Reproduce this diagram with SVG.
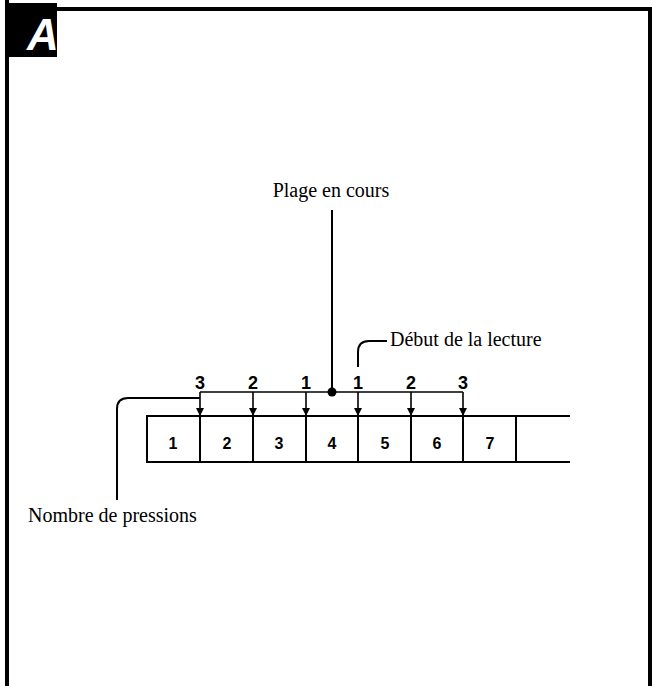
<svg xmlns="http://www.w3.org/2000/svg" width="652" height="686" viewBox="0 0 652 686">
<style>
.ln{stroke:#000;stroke-width:2;fill:none}
.ar{stroke:#000;stroke-width:1.6;fill:none}
.lbl{font-family:"Liberation Serif","Times New Roman",serif;font-size:20px;fill:#000}
.num{font-family:"Liberation Sans",Arial,sans-serif;font-size:18px;font-weight:bold;fill:#000;text-anchor:middle}
.cn{font-family:"Liberation Sans",Arial,sans-serif;font-size:16px;font-weight:bold;fill:#000;text-anchor:middle}
</style>
<defs>
<marker id="ah" viewBox="0 0 8 8" refX="8" refY="4" markerWidth="8" markerHeight="8" markerUnits="userSpaceOnUse" orient="auto">
<path d="M0,0 L8,4 L0,8 Z" fill="#000"/>
</marker>
</defs>
<rect width="652" height="686" fill="#fff"/>
<g id="frame">
<rect x="5" y="0" width="4" height="686" fill="#000"/>
<rect x="5" y="7" width="647" height="4" fill="#000"/>
<rect x="648" y="7" width="4" height="679" fill="#000"/>
<rect x="5" y="3" width="52" height="54" fill="#000"/>
<text x="27" y="50" font-family="Liberation Sans,Arial,sans-serif" font-size="44" font-weight="bold" font-style="italic" fill="#fff">A</text>
</g>
<g id="track-strip">
<path class="ln" d="M570,416 H147 V462 H570"/>
<path class="ln" d="M200,416 V462 M253,416 V462 M306,416 V462 M358,416 V462 M411,416 V462 M463,416 V462 M516,416 V462"/>
<text class="cn" x="173" y="449">1</text>
<text class="cn" x="227" y="449">2</text>
<text class="cn" x="279" y="449">3</text>
<text class="cn" x="332" y="449">4</text>
<text class="cn" x="385" y="449">5</text>
<text class="cn" x="437" y="449">6</text>
<text class="cn" x="490" y="449">7</text>
</g>
<g id="press-labels">
<text class="num" x="200" y="389">3</text>
<text class="num" x="253" y="389">2</text>
<text class="num" x="306" y="389">1</text>
<text class="num" x="358" y="389">1</text>
<text class="num" x="411" y="389">2</text>
<text class="num" x="463" y="389">3</text>
</g>
<g id="plage-en-cours">
<text class="lbl" x="331" y="197" text-anchor="middle">Plage en cours</text>
</g>
<g id="debut-lecture">
<text class="lbl" x="390" y="346">Début de la lecture</text>
</g>
<g id="nombre-pressions">
<text class="lbl" x="28" y="522">Nombre de pressions</text>
</g>
<g id="connectors">
<path class="ar" d="M200,392 H463"/>
<path class="ar" marker-end="url(#ah)" d="M200,392 V416"/>
<path class="ar" marker-end="url(#ah)" d="M253,392 V416"/>
<path class="ar" marker-end="url(#ah)" d="M306,392 V416"/>
<path class="ar" marker-end="url(#ah)" d="M358,392 V416"/>
<path class="ar" marker-end="url(#ah)" d="M411,392 V416"/>
<path class="ar" marker-end="url(#ah)" d="M463,392 V416"/>
<path class="ln" d="M332,210 V392"/>
<circle cx="332" cy="392" r="4.5" fill="#000"/>
<path class="ln" d="M358,367 V352 Q358,341 369,341 H387"/>
<path class="ln" d="M200,398 H128 Q117,398 117,409 V500"/>
</g>
</svg>
